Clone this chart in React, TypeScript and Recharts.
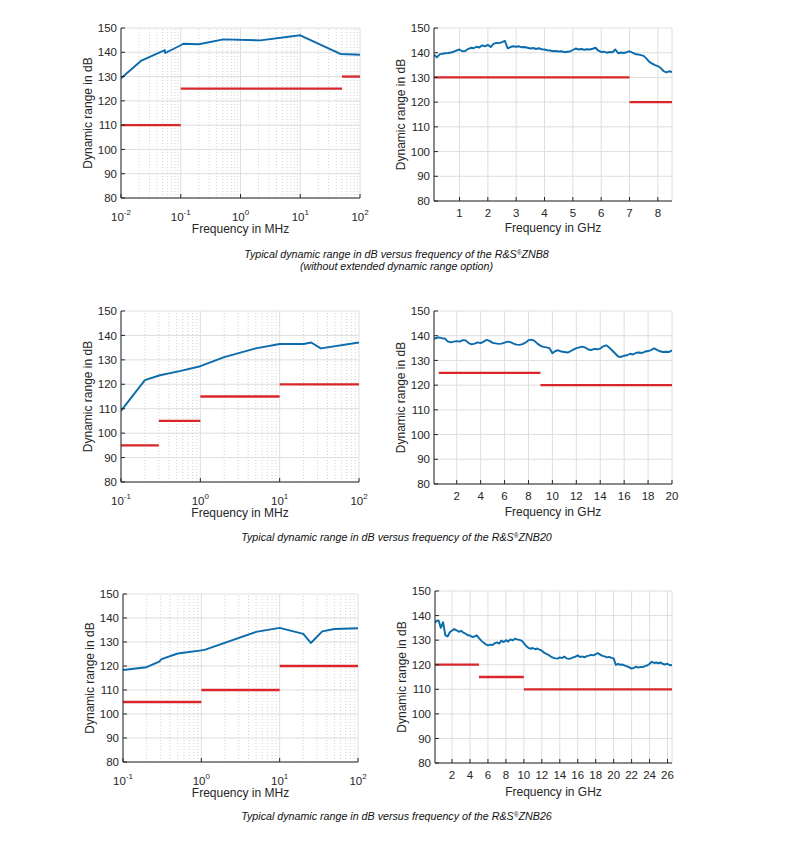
import React from 'react';
import { LineChart, Line, XAxis, YAxis, CartesianGrid, ReferenceLine } from 'recharts';

// --- y axis (all panels) ---
const dbTicks = [80, 90, 100, 110, 120, 130, 140, 150];
const dbDomain: [number, number] = [80, 150];

// --- x tick values ---
const znb8MhzTicks = [0.01, 0.1, 1, 10, 100];
const mhzTicks = [0.1, 1, 10, 100];
const znb8GhzTicks = [1, 2, 3, 4, 5, 6, 7, 8];
const znb20GhzTicks = [2, 4, 6, 8, 10, 12, 14, 16, 18, 20];
const znb26GhzTicks = [2, 4, 6, 8, 10, 12, 14, 16, 18, 20, 22, 24, 26];

// --- ZNB8, MHz range ---
const znb8MhzFreq = [0.01, 0.022, 0.054, 0.055, 0.1, 0.11, 0.2, 0.52, 2.15, 10, 47, 100];
const znb8MhzRange = [129.3, 136.6, 140.9, 139.7, 142.9, 143.5, 143.3, 145.3, 144.9, 147.0, 139.3, 139.0];
const znb8MhzLimitFrom = [0.01, 0.1, 50];
const znb8MhzLimitTo = [0.1, 50, 100];
const znb8MhzLimitLevel = [110, 125, 130];

// --- ZNB8, GHz range ---
const znb8GhzFreq = [
  0.1, 0.2, 0.3, 0.4, 0.5, 0.6, 0.7, 0.8, 0.9, 1.0,
  1.1, 1.2, 1.3, 1.4, 1.5, 1.6, 1.7, 1.8, 1.9, 2.0,
  2.1, 2.2, 2.3, 2.4, 2.5, 2.6, 2.7, 2.8, 2.9, 3.0,
  3.1, 3.2, 3.3, 3.4, 3.5, 3.6, 3.7, 3.8, 3.9, 4.0,
  4.1, 4.2, 4.3, 4.4, 4.5, 4.6, 4.7, 4.8, 4.9, 5.0,
  5.1, 5.2, 5.3, 5.4, 5.5, 5.6, 5.7, 5.8, 5.9, 6.0,
  6.1, 6.2, 6.3, 6.4, 6.5, 6.6, 6.7, 6.8, 6.9, 7.0,
  7.1, 7.2, 7.3, 7.4, 7.5, 7.6, 7.7, 7.8, 7.9, 8.0,
  8.1, 8.2, 8.3, 8.4, 8.5,
];
const znb8GhzRange = [
  139.2, 138.1, 139.3, 139.6, 139.8, 139.9, 140.1, 140.4, 140.9, 141.3,
  140.6, 140.7, 141.5, 142.0, 141.8, 142.4, 142.1, 143.0, 142.6, 143.2,
  142.3, 143.6, 144.0, 143.9, 144.3, 144.8, 141.8, 142.3, 142.6, 142.4,
  142.6, 142.2, 142.3, 142.0, 141.7, 141.9, 141.5, 141.8, 141.4, 141.3,
  141.0, 140.9, 140.6, 140.7, 140.5, 140.6, 140.2, 140.4, 140.5, 141.1,
  141.7, 141.3, 141.5, 141.2, 141.4, 141.3, 141.6, 142.0, 140.8, 140.3,
  140.4, 140.0, 140.3, 140.2, 141.3, 139.8, 140.1, 139.9, 140.2, 140.6,
  140.0, 139.5, 139.3, 139.0, 138.7, 137.6, 136.3, 135.6, 135.0, 134.6,
  133.8, 132.6, 132.0, 132.5, 132.2,
];
const znb8GhzLimitFrom = [0.1, 7];
const znb8GhzLimitTo = [7, 8.5];
const znb8GhzLimitLevel = [130, 120];

// --- ZNB20, MHz range ---
const znb20MhzFreq = [0.1, 0.2, 0.31, 0.55, 1, 2, 5, 10, 20, 25, 33, 100];
const znb20MhzRange = [109.1, 121.7, 123.7, 125.4, 127.4, 131.1, 134.7, 136.5, 136.5, 137.1, 134.7, 137.1];
const znb20MhzLimitFrom = [0.1, 0.3, 1, 10];
const znb20MhzLimitTo = [0.3, 1, 10, 100];
const znb20MhzLimitLevel = [95, 105, 115, 120];

// --- ZNB20, GHz range ---
const znb20GhzFreq = [
  0.1, 0.25, 0.5, 0.75, 1.0, 1.25, 1.5, 1.75, 2.0, 2.25,
  2.5, 2.75, 3.0, 3.25, 3.5, 3.75, 4.0, 4.25, 4.5, 4.75,
  5.0, 5.25, 5.5, 5.75, 6.0, 6.25, 6.5, 6.75, 7.0, 7.25,
  7.5, 7.75, 8.0, 8.25, 8.5, 8.75, 9.0, 9.25, 9.5, 9.75,
  10.0, 10.25, 10.5, 10.75, 11.0, 11.25, 11.5, 11.75, 12.0, 12.25,
  12.5, 12.75, 13.0, 13.25, 13.5, 13.75, 14.0, 14.25, 14.5, 14.75,
  15.0, 15.25, 15.5, 15.75, 16.0, 16.25, 16.5, 16.75, 17.0, 17.25,
  17.5, 17.75, 18.0, 18.25, 18.5, 18.75, 19.0, 19.25, 19.5, 19.75,
  20.0,
];
const znb20GhzRange = [
  138.6, 139.1, 139.3, 139.0, 138.9, 137.7, 137.3, 137.6, 137.8, 137.6,
  138.2, 138.1, 137.0, 136.5, 136.8, 137.3, 137.0, 137.6, 138.3, 137.9,
  137.1, 136.9, 136.7, 136.8, 137.2, 137.6, 137.4, 136.8, 136.4, 136.3,
  136.6, 137.2, 138.2, 138.4, 137.9, 136.8, 135.9, 135.5, 135.3, 135.0,
  132.9, 133.8, 134.1, 133.6, 133.4, 133.2, 133.7, 134.4, 135.0, 135.3,
  135.6, 135.2, 134.4, 134.2, 134.7, 134.5, 134.8, 135.7, 136.1, 135.2,
  134.0, 132.8, 131.6, 131.4, 131.9, 132.1, 132.7, 132.4, 133.1, 133.2,
  133.0, 133.6, 133.8, 134.2, 134.9, 134.3, 133.7, 133.4, 133.5, 133.4,
  134.1,
];
const znb20GhzLimitFrom = [0.5, 9];
const znb20GhzLimitTo = [9, 20];
const znb20GhzLimitLevel = [125, 120];

// --- ZNB26, MHz range ---
const znb26MhzFreq = [0.1, 0.2, 0.29, 0.31, 0.5, 1, 1.1, 5, 10, 20, 25, 35, 50, 100];
const znb26MhzRange = [118.3, 119.5, 121.8, 122.9, 125.2, 126.5, 126.7, 134.2, 135.9, 133.4, 129.6, 134.4, 135.4, 135.7];
const znb26MhzLimitFrom = [0.1, 1, 10];
const znb26MhzLimitTo = [1, 10, 100];
const znb26MhzLimitLevel = [105, 110, 120];

// --- ZNB26, GHz range ---
const znb26GhzFreq = [
  0.1, 0.25, 0.5, 0.75, 1.0, 1.25, 1.5, 1.75, 2.0, 2.25,
  2.5, 2.75, 3.0, 3.25, 3.5, 3.75, 4.0, 4.25, 4.5, 4.75,
  5.0, 5.25, 5.5, 5.75, 6.0, 6.25, 6.5, 6.75, 7.0, 7.25,
  7.5, 7.75, 8.0, 8.25, 8.5, 8.75, 9.0, 9.25, 9.5, 9.75,
  10.0, 10.25, 10.5, 10.75, 11.0, 11.25, 11.5, 11.75, 12.0, 12.25,
  12.5, 12.75, 13.0, 13.25, 13.5, 13.75, 14.0, 14.25, 14.5, 14.75,
  15.0, 15.25, 15.5, 15.75, 16.0, 16.25, 16.5, 16.75, 17.0, 17.25,
  17.5, 17.75, 18.0, 18.25, 18.5, 18.75, 19.0, 19.25, 19.5, 19.75,
  20.0, 20.25, 20.5, 20.75, 21.0, 21.25, 21.5, 21.75, 22.0, 22.25,
  22.5, 22.75, 23.0, 23.25, 23.5, 23.75, 24.0, 24.25, 24.5, 24.75,
  25.0, 25.25, 25.5, 25.75, 26.0, 26.25, 26.5,
];
const znb26GhzRange = [
  137.0, 137.8, 138.0, 135.0, 137.3, 132.0, 131.5, 133.2, 133.9, 134.5,
  134.0, 133.4, 133.8, 133.1, 132.7, 132.0, 131.9, 131.3, 131.5, 131.9,
  130.8, 129.8, 129.0, 128.3, 127.9, 128.2, 128.0, 128.7, 129.1, 128.6,
  129.8, 129.2, 130.0, 129.4, 130.3, 129.9, 130.6, 130.3, 130.1, 129.8,
  128.8, 127.6, 126.9, 126.5, 126.8, 126.3, 126.6, 126.1, 125.7, 124.9,
  124.4, 124.0, 123.3, 122.9, 122.6, 122.5, 123.0, 122.7, 123.3, 122.6,
  122.4, 122.6, 123.0, 123.3, 123.8, 123.1, 123.4, 123.0, 123.5, 123.7,
  124.0, 123.8, 124.3, 124.7, 124.1, 123.6, 123.4, 123.0, 123.2, 122.8,
  122.6, 119.9, 120.3, 120.0, 120.1, 119.6, 119.3, 118.9, 118.4, 118.7,
  119.2, 118.8, 119.1, 119.0, 119.4, 119.7, 120.4, 121.2, 120.7, 120.9,
  120.6, 120.9, 120.3, 120.1, 120.4, 119.8, 119.9,
];
const znb26GhzLimitFrom = [0.1, 5, 10];
const znb26GhzLimitTo = [5, 10, 26.5];
const znb26GhzLimitLevel = [120, 115, 110];

const FONT = '"Liberation Sans", Arial, Helvetica, sans-serif';
const TEXT = '#262626';
const AXIS = '#262626';
const GRID = '#dedede';
const MINOR = '#d2d2d2';
const BLUE = '#0b6bad';
const RED = '#d8262b';

// minor grid positions of a log axis (2..9 within each decade)
function minorGrid(domain: [number, number]) {
  const out: number[] = [];
  for (let d = domain[0]; d < domain[1] * 0.999; d *= 10) {
    for (let k = 2; k <= 9; k++) out.push(+(d * k).toPrecision(3));
  }
  return out;
}

function PowerTick(props: any) {
  const { x, y, payload } = props;
  const exp = Math.round(Math.log10(payload.value));
  return (
    <text x={x} y={y} dy={15} textAnchor="middle" fill={TEXT} fontSize={11.5}>
      10
      <tspan dy={-6} fontSize={8}>
        {exp}
      </tspan>
    </text>
  );
}

interface PanelProps {
  left: number;
  top: number;
  width: number;
  height: number;
  log: boolean;
  domain: [number, number];
  ticks: number[];
  unit: string;
  labelDrop: number;
  freq: number[];
  range: number[];
  limitFrom: number[];
  limitTo: number[];
  limitLevel: number[];
}

function Panel(p: PanelProps) {
  const trace = p.freq.map((f, i) => ({ f, dr: p.range[i] }));
  const limits = p.limitFrom.map((from, i) => [
    { f: from, dr: p.limitLevel[i] },
    { f: p.limitTo[i], dr: p.limitLevel[i] },
  ]);
  const scale = p.log ? 'log' : 'linear';
  const minor = p.log ? minorGrid(p.domain) : [];

  return (
    <div style={{ position: 'absolute', left: p.left - 45, top: p.top - 5 }}>
      <LineChart width={p.width + 62} height={p.height + 45} margin={{ top: 5, right: 17, bottom: 0, left: 0 }}>
        <CartesianGrid stroke={GRID} vertical={!p.log} />
        {minor.map((v) => (
          <ReferenceLine key={'m' + v} x={v} stroke={MINOR} strokeDasharray="1 2" />
        ))}
        {p.log && p.ticks.map((v) => <ReferenceLine key={'M' + v} x={v} stroke={GRID} />)}
        <XAxis
          dataKey="f"
          type="number"
          scale={scale}
          domain={p.domain}
          allowDataOverflow
          ticks={p.ticks}
          interval={0}
          height={40}
          tickSize={-4}
          tickMargin={12}
          stroke={AXIS}
          tick={p.log ? <PowerTick /> : { fill: TEXT, fontSize: 11.5 }}
          label={{
            value: `Frequency in ${p.unit}`,
            position: 'insideBottom',
            offset: 40 - p.labelDrop,
            style: { fill: TEXT, fontSize: 12 },
          }}
        />
        <XAxis
          xAxisId="top"
          orientation="top"
          type="number"
          scale={scale}
          domain={p.domain}
          allowDataOverflow
          ticks={p.ticks}
          interval={0}
          height={0}
          tickSize={-4}
          tick={false}
          stroke={AXIS}
        />
        <YAxis
          domain={dbDomain}
          allowDataOverflow
          ticks={dbTicks}
          interval={0}
          width={45}
          tickSize={-4}
          tickMargin={8}
          stroke={AXIS}
          tick={{ fill: TEXT, fontSize: 11.5 }}
          label={{
            value: 'Dynamic range in dB',
            angle: -90,
            position: 'insideLeft',
            offset: 12,
            style: { fill: TEXT, fontSize: 12, textAnchor: 'middle' },
          }}
        />
        <YAxis
          yAxisId="right"
          orientation="right"
          domain={dbDomain}
          allowDataOverflow
          ticks={dbTicks}
          interval={0}
          width={0}
          tickSize={-4}
          tick={false}
          stroke={AXIS}
        />
        {limits.map((seg, i) => (
          <Line
            key={i}
            data={seg}
            dataKey="dr"
            type="linear"
            stroke={RED}
            strokeWidth={2.3}
            dot={false}
            isAnimationActive={false}
          />
        ))}
        <Line
          data={trace}
          dataKey="dr"
          type="linear"
          stroke={BLUE}
          strokeWidth={1.9}
          strokeLinejoin="round"
          dot={false}
          isAnimationActive={false}
        />
      </LineChart>
    </div>
  );
}

function Caption({ top, children }: { top: number; children: React.ReactNode }) {
  return (
    <div
      style={{
        position: 'absolute',
        left: 0,
        top,
        width: 793,
        textAlign: 'center',
        fontStyle: 'italic',
        fontSize: 10.7,
        lineHeight: '12px',
        color: '#111',
      }}
    >
      {children}
    </div>
  );
}

const reg = <sup style={{ fontSize: 6.5, verticalAlign: 'top', position: 'relative', top: -1 }}>®</sup>;

export default function App() {
  return (
    <div style={{ position: 'absolute', left: 0, top: 0, width: 793, height: 850, background: '#fff', fontFamily: FONT }}>
      <Panel left={121} top={28} width={239} height={170} log domain={[0.01, 100]} ticks={znb8MhzTicks} unit="MHz" labelDrop={34.5}
        freq={znb8MhzFreq} range={znb8MhzRange} limitFrom={znb8MhzLimitFrom} limitTo={znb8MhzLimitTo} limitLevel={znb8MhzLimitLevel} />
      <Panel left={434} top={28} width={238} height={173} log={false} domain={[0.1, 8.5]} ticks={znb8GhzTicks} unit="GHz" labelDrop={31}
        freq={znb8GhzFreq} range={znb8GhzRange} limitFrom={znb8GhzLimitFrom} limitTo={znb8GhzLimitTo} limitLevel={znb8GhzLimitLevel} />
      <Caption top={248}>
        Typical dynamic range in dB versus frequency of the R&amp;S{reg}ZNB8
        <br />
        (without extended dynamic range option)
      </Caption>

      <Panel left={121} top={311} width={238} height={171} log domain={[0.1, 100]} ticks={mhzTicks} unit="MHz" labelDrop={34.5}
        freq={znb20MhzFreq} range={znb20MhzRange} limitFrom={znb20MhzLimitFrom} limitTo={znb20MhzLimitTo} limitLevel={znb20MhzLimitLevel} />
      <Panel left={434} top={311} width={238} height={173} log={false} domain={[0.1, 20]} ticks={znb20GhzTicks} unit="GHz" labelDrop={32}
        freq={znb20GhzFreq} range={znb20GhzRange} limitFrom={znb20GhzLimitFrom} limitTo={znb20GhzLimitTo} limitLevel={znb20GhzLimitLevel} />
      <Caption top={531}>Typical dynamic range in dB versus frequency of the R&amp;S{reg}ZNB20</Caption>

      <Panel left={123} top={594} width={235} height={168} log domain={[0.1, 100]} ticks={mhzTicks} unit="MHz" labelDrop={34.5}
        freq={znb26MhzFreq} range={znb26MhzRange} limitFrom={znb26MhzLimitFrom} limitTo={znb26MhzLimitTo} limitLevel={znb26MhzLimitLevel} />
      <Panel left={435} top={591} width={237} height={172} log={false} domain={[0.1, 26.5]} ticks={znb26GhzTicks} unit="GHz" labelDrop={32.5}
        freq={znb26GhzFreq} range={znb26GhzRange} limitFrom={znb26GhzLimitFrom} limitTo={znb26GhzLimitTo} limitLevel={znb26GhzLimitLevel} />
      <Caption top={810}>Typical dynamic range in dB versus frequency of the R&amp;S{reg}ZNB26</Caption>
    </div>
  );
}
